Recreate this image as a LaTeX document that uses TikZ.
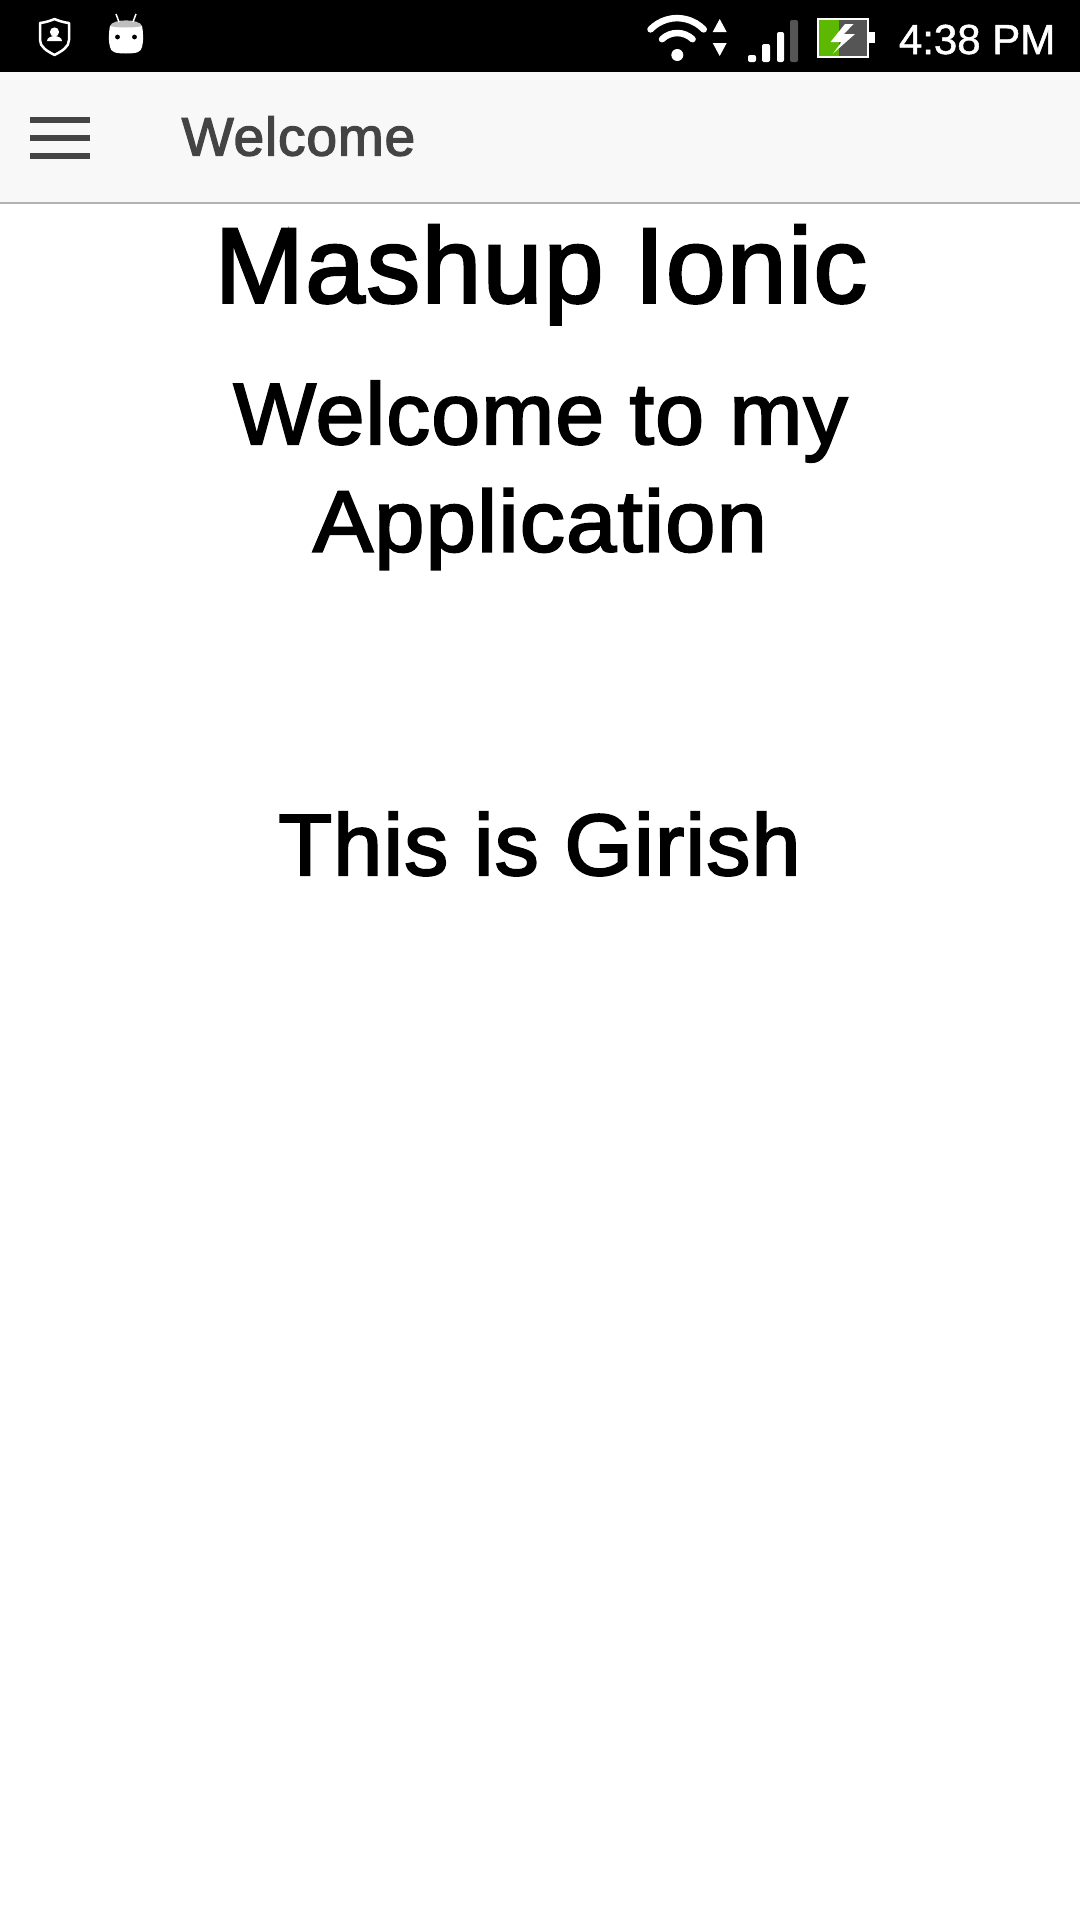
\documentclass[tikz,border=0pt]{standalone}
\usepackage{fontspec}
\setmainfont{Liberation Sans}
\newfontfamily\medfont[FakeBold=2.4,LetterSpace=1.5]{Liberation Sans}
\newfontfamily\clockfont[FakeBold=1.2]{Liberation Sans}
\definecolor{barink}{HTML}{444444}
\definecolor{toolbg}{HTML}{F8F8F8}
\definecolor{toolline}{HTML}{B2B2B2}
\definecolor{batgreen}{HTML}{5CB800}
\definecolor{batgray}{HTML}{555555}
\tikzset{
  big/.style={anchor=base,inner sep=0pt,text=black,font=\medfont\fontsize{87}{87}\selectfont},
  huge/.style={anchor=base,inner sep=0pt,text=black,font=\medfont\fontsize{107}{107}\selectfont},
  wifiarc/.style={draw=white,line width=6.5pt,line cap=round,fill=none},
  sigbar/.style={fill=white,rounded corners=2pt,draw=none},
  burger/.style={fill=barink,draw=none}
}
\begin{document}
\begin{tikzpicture}[x=1pt,y=-1pt]
\useasboundingbox (0,0) rectangle (1080,1920);
\fill[white] (0,0) rectangle (1080,1920);
% status bar
\fill[black] (0,0) rectangle (1080,72);
% toolbar
\fill[toolbg] (0,72) rectangle (1080,202);
\fill[toolline] (0,201.5) rectangle (1080,203.5);
\fill[burger] (30,117) rectangle (90,123);
\fill[burger] (30,135) rectangle (90,141);
\fill[burger] (30,153) rectangle (90,159);
\node[anchor=base,inner sep=0pt,text=barink,font=\medfont\fontsize{54}{54}\selectfont] (title) at (298.5,155.5) {\scalebox{1.02}[1]{Welcome}};
% shield
\draw[white,line width=2.5pt,line join=round] (40,23) .. controls (48,22) and (52,20) .. (54.5,19) .. controls (57,20) and (61,22) .. (69,23) -- (69,40) .. controls (69,47) and (62,51) .. (54.5,55) .. controls (47,51) and (40,47) .. (40,40) -- cycle;
\fill[white] (54.5,32) circle (4.6);
\fill[white] (47,41) .. controls (47,38) and (51,36) .. (54.5,36) .. controls (58,36) and (62,38) .. (62,41) -- cycle;
% robot
\fill[white] (110,26) .. controls (108.5,33) and (108.5,42) .. (110,47) .. controls (111,52) and (115,53.5) .. (126,53.5) .. controls (137,53.5) and (141,52) .. (142,47) .. controls (143.5,42) and (143.5,33) .. (142,26) -- cycle;
\fill[black!25] (110,26) .. controls (112,18.5) and (140,18.5) .. (142,26) .. controls (136,28) and (116,28) .. (110,26) -- cycle;
\draw[white,line width=1.5pt] (116,14) -- (119,22);
\draw[white,line width=1.5pt] (136,14) -- (133,22);
\fill[black] (117.5,37) circle (2.4);
\fill[black] (134.5,37) circle (2.4);
% wifi
\fill[white] (677.3,55) circle (6);
\draw[wifiarc] (650.5,29.4) arc[start angle=-136,end angle=-44,radius=37];
\draw[wifiarc] (662,39.2) arc[start angle=-134,end angle=-46,radius=22];
\fill[white] (712.7,32) -- (719.7,19) -- (726.7,32) -- cycle;
\fill[white] (712.7,43) -- (719.7,56) -- (726.7,43) -- cycle;
% signal
\fill[sigbar] (748,55) rectangle (756,62);
\fill[sigbar] (762,44) rectangle (770,62);
\fill[sigbar] (777,32) rectangle (784,62);
\fill[batgray,rounded corners=2pt] (790,20) rectangle (798,62);
% battery
\fill[batgreen] (818,19) rectangle (839,57);
\fill[batgray] (839,19) rectangle (868,57);
\draw[white,line width=2.5pt] (818,19) rectangle (868,57);
\fill[white] (869,32) rectangle (875,43);
\fill[white] (845,24) -- (830.5,42) -- (841.5,42) -- (833,53.5) -- (855,34) -- (844,34) -- (853.5,24) -- cycle;
\node[anchor=base east,inner sep=0pt,text=white,font=\clockfont\fontsize{42}{42}\selectfont] (clock) at (1055.5,54) {4:38 PM};
% content
\node[huge] (head) at (541,302.5) {\scalebox{1}[1]{Mashup Ionic}};
\node[big] (welcomeA) at (540.5,444) {\scalebox{1.005}[1]{Welcome to my}};
\node[big] (welcomeB) at (540,551.5) {\scalebox{1.035}[1]{Application}};
\node[big] (girish) at (539.5,875) {\scalebox{1.01}[1]{This is Girish}};
\end{tikzpicture}
\end{document}
